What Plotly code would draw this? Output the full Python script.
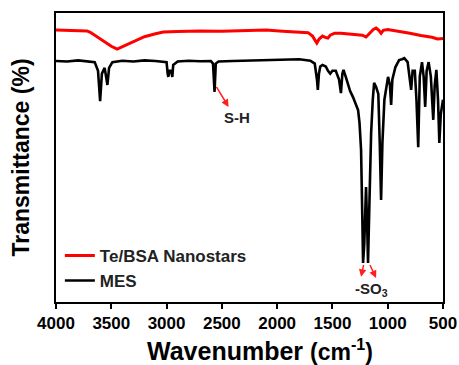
import plotly.graph_objects as go

# MES spectrum (wavenumber, transmittance a.u.)
mes_wn = [4000, 3900, 3800, 3700, 3650, 3620, 3601, 3585, 3560, 3535, 3520, 3490, 3400, 3300, 3200, 3100,
          3000, 2990, 2984, 2975, 2960, 2948, 2940, 2900, 2800, 2700, 2600, 2580, 2566, 2555, 2530, 2400,
          2200, 2000, 1900, 1800, 1700, 1660, 1640, 1632, 1622, 1610, 1590, 1560, 1540, 1520, 1500, 1470,
          1440, 1423, 1410, 1400, 1380, 1340, 1314, 1290, 1268, 1255, 1241, 1230, 1223, 1212, 1196, 1185,
          1178, 1165, 1150, 1135, 1123, 1105, 1085, 1072, 1060, 1048, 1030, 997, 980, 969, 958, 930, 897,
          870, 850, 820, 800, 788, 775, 755, 740, 724, 710, 690, 675, 661, 648, 630, 610, 588, 575, 560,
          545, 533, 520, 500]
mes_t = [83.4, 83.2, 83.6, 83.3, 83.0, 80.0, 69.5, 79.0, 81.0, 75.1, 81.0, 83.0, 83.5, 83.2, 83.6, 83.4,
         83.0, 79.0, 77.9, 80.0, 80.0, 77.9, 82.0, 83.2, 83.5, 83.3, 83.4, 82.5, 72.7, 82.5, 83.2, 83.4,
         83.6, 83.8, 83.7, 84.0, 83.5, 82.5, 77.0, 73.4, 79.0, 81.5, 82.0, 81.5, 80.0, 79.0, 80.0, 80.0,
         77.0, 72.3, 79.0, 80.3, 78.0, 73.0, 70.9, 68.5, 66.4, 62.0, 52.6, 30.0, 13.5, 20.0, 39.8, 25.0,
         13.5, 35.0, 58.5, 70.0, 75.8, 74.4, 72.0, 55.0, 35.3, 55.0, 70.0, 77.9, 75.0, 68.2, 77.0, 81.3, 83.7,
         84.0, 84.4, 83.0, 77.0, 73.4, 80.0, 80.0, 70.0, 53.6, 78.0, 83.0, 78.0, 67.5, 80.0, 83.0, 78.0, 63.0, 75.0, 80.3,
         70.0, 55.0, 65.0, 70.0]

# Te/BSA Nanostars spectrum
te_wn = [4000, 3900, 3800, 3720, 3690, 3600, 3500, 3447, 3400, 3300, 3200, 3100, 3029, 2900, 2700, 2500,
         2300, 2100, 1950, 1800, 1720, 1680, 1660, 1641, 1620, 1590, 1560, 1541, 1520, 1480, 1423, 1300,
         1230, 1196, 1160, 1130, 1105, 1080, 1060, 1040, 1000, 950, 900, 800, 700, 600, 550, 520, 500]
te_t = [94.1, 94.0, 93.9, 93.8, 93.3, 91.0, 88.5, 87.5, 88.3, 90.2, 91.8, 92.8, 93.4, 93.6, 93.8, 93.7,
        94.0, 94.1, 93.7, 93.4, 93.2, 92.0, 90.5, 89.6, 91.0, 92.0, 91.5, 91.3, 92.3, 93.0, 93.0, 92.6,
        92.3, 91.7, 93.2, 94.3, 94.8, 94.0, 93.0, 94.0, 94.3, 94.0, 93.8, 93.0, 92.2, 91.6, 91.0, 91.0, 91.2]

x_ticks = [4000, 3500, 3000, 2500, 2000, 1500, 1000, 500]

FONT = "Liberation Sans, Arial, sans-serif"

fig = go.Figure()
fig.add_trace(go.Scatter(x=te_wn, y=te_t, mode="lines", name="Te/BSA Nanostars",
                         line=dict(color="#ff0000", width=3)))
fig.add_trace(go.Scatter(x=mes_wn, y=mes_t, mode="lines", name="MES",
                         line=dict(color="#000000", width=2.6)))

arrow = dict(showarrow=True, arrowhead=2, arrowsize=1, arrowwidth=1.5, arrowcolor="#ff2020",
             axref="x", ayref="y", xref="x", yref="y", text=" ", font=dict(size=1))
fig.add_annotation(x=2439, y=67.5, ax=2560, ay=75.1, **arrow)
fig.add_annotation(x=1241, y=8.7, ax=1214, ay=13.5, **arrow)
fig.add_annotation(x=1105, y=8.3, ax=1169, ay=13.5, **arrow)
fig.add_annotation(x=2360, y=63.8, text="<b>S-H</b>", showarrow=False,
                   font=dict(family=FONT, size=15, color="#222"))
fig.add_annotation(x=1151, y=4.2, text="<b>-SO<sub>3</sub></b>", showarrow=False,
                   font=dict(family=FONT, size=15, color="#222"))
# x-axis title (placed as annotation to match the reference's offset)
fig.add_annotation(xref="paper", yref="paper", x=0.527, y=-0.166, xanchor="center", yanchor="middle",
                   text="<b>Wavenumber <span style='font-size:23px'>(cm<sup>-1</sup>)</span></b>",
                   showarrow=False, font=dict(family=FONT, size=25, color="black"))

fig.update_layout(
    width=459, height=365,
    margin=dict(l=56, r=16, t=13, b=63, autoexpand=False),
    plot_bgcolor="white", paper_bgcolor="white",
    font=dict(family=FONT, color="black"),
    showlegend=True,
    legend=dict(x=0.01, y=0.222, xanchor="left", yanchor="top", bgcolor="rgba(0,0,0,0)",
                font=dict(family=FONT, size=17, weight="bold", color="#222"),
                itemwidth=30, tracegroupgap=0),
)
fig.update_xaxes(range=[4000, 500], tickvals=x_ticks, ticktext=[str(v) for v in x_ticks],
                 ticks="outside", ticklen=5, tickwidth=2, tickcolor="black", automargin=False,
                 showline=True, linecolor="black", linewidth=2, mirror=True,
                 showgrid=False, zeroline=False,
                 tickfont=dict(family=FONT, size=17, weight="bold", color="black"))
fig.update_yaxes(range=[0, 100], showticklabels=False, ticks="", automargin=False,
                 showline=True, linecolor="black", linewidth=2, mirror=True,
                 showgrid=False, zeroline=False,
                 title=dict(text="Transmittance (%)", standoff=18,
                            font=dict(family=FONT, size=23, weight="bold", color="black")))

fig.write_html("out.html", post_script="document.body.style.margin='0px';",
               config={"displayModeBar": False})
